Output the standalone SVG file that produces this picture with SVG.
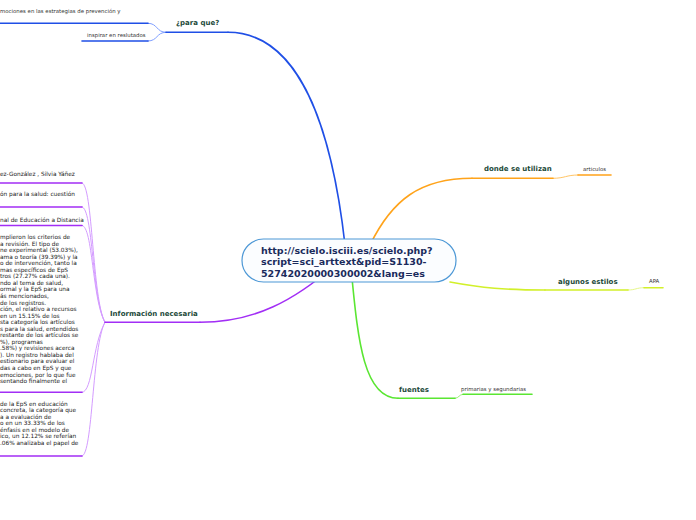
<svg xmlns="http://www.w3.org/2000/svg" width="696" height="520" viewBox="0 0 696 520">
<style>
.lbl{font-family:"DejaVu Sans",Verdana,sans-serif;font-weight:bold;font-size:7px;fill:#1d4a3a}
.sm{font-family:"DejaVu Sans",Verdana,sans-serif;font-size:5.4px;fill:#333}
.blk{font-family:"DejaVu Sans",Verdana,sans-serif;font-size:5.8px;fill:#222}
.ctr{font-family:"DejaVu Sans",Verdana,sans-serif;font-weight:bold;font-size:9.5px;fill:#1a2b5c}
.c{fill:none;stroke-linecap:round}
.bu{stroke:#1f4fe6;stroke-width:1.6}
.bc{stroke:#7f9fff;stroke-width:1}
.pu{stroke:#a22ef5;stroke-width:1.6}
.pc{stroke:#d49cff;stroke-width:1}
.ou{stroke:#ffa31a;stroke-width:1.6}
.oc{stroke:#ffc566;stroke-width:1}
.yu{stroke:#d2f02a;stroke-width:1.6}
.yc{stroke:#e6f78a;stroke-width:1}
.gu{stroke:#5ae632;stroke-width:1.6}
.gc{stroke:#9af07a;stroke-width:1}
</style>
<rect width="696" height="520" fill="#ffffff"/>
<g id="connectors">
  <path class="c bu" d="M228,32.3 C300,32.3 332,130 345,245"/>
  <path class="c bc" d="M148,23.3 C158,23.3 156,32.3 166,32.3"/>
  <path class="c bc" d="M148,41 C158,41 156,32.3 166,32.3"/>
  <path class="c ou" d="M370,245 C392,200 420,178.3 472,178.3"/>
  <path class="c oc" d="M553,178.3 C565,178.3 566,175 578,175"/>
  <path class="c yu" d="M450,282 C482,288 505,290 545,290"/>
  <path class="c yc" d="M628,290 C636,290 636,287.7 644,287.7"/>
  <path class="c gu" d="M352,278 C358,340 364,398.3 398,398.3"/>
  <path class="c gc" d="M455,398.3 C459,398.3 459,394.3 463,394.3"/>
  <path class="c pu" d="M200,322.3 C255,322.3 295,300 335,265"/>
  <path class="c pc" d="M82,183 C93,183 92,300 105,322.3"/>
  <path class="c pc" d="M82,207 C93,207 92,300 105,322.3"/>
  <path class="c pc" d="M82,225.5 C93,225.5 92,300 105,322.3"/>
  <path class="c pc" d="M82,392.3 C93,392.3 92,345 105,322.3"/>
  <path class="c pc" d="M82,456 C93,456 92,345 105,322.3"/>
</g>
<g id="central">
  <rect x="242" y="239" width="214" height="43" rx="21.5" ry="21.5" fill="#fbfdff" stroke="#4d98d6" stroke-width="1.2"/>
  <text class="ctr" x="261" y="253.5">http://scielo.isciii.es/scielo.php?</text>
  <text class="ctr" x="261" y="265">script=sci_arttext&amp;pid=S1130-</text>
  <text class="ctr" x="261" y="276.5">52742020000300002&amp;lang=es</text>
</g>
<g id="para-que">
  <text class="lbl" x="176" y="25">¿para que?</text>
  <line class="c bu" x1="166" y1="32.3" x2="228" y2="32.3"/>
</g>
<g id="mociones">
  <text class="sm" x="0" y="13">mociones en las estrategias de prevención y</text>
  <line class="c bu" x1="0" y1="23.3" x2="148" y2="23.3"/>
</g>
<g id="inspirar">
  <text class="sm" x="87" y="37">inspirar en reslutados</text>
  <line class="c bu" x1="82" y1="41" x2="148" y2="41"/>
</g>
<g id="donde-se-utilizan">
  <text class="lbl" x="484" y="170.8">donde se utilizan</text>
  <line class="c ou" x1="472" y1="178.3" x2="553" y2="178.3"/>
</g>
<g id="articulos">
  <text class="sm" x="583" y="171">articulos</text>
  <line class="c ou" x1="578" y1="175" x2="611" y2="175"/>
</g>
<g id="algunos-estilos">
  <text class="lbl" x="558" y="284.2">algunos estilos</text>
  <line class="c yu" x1="545" y1="290" x2="628" y2="290"/>
</g>
<g id="apa">
  <text class="sm" x="649" y="282.7">APA</text>
  <line class="c yu" x1="644" y1="287.7" x2="663" y2="287.7"/>
</g>
<g id="fuentes">
  <text class="lbl" x="399" y="391.5">fuentes</text>
  <line class="c gu" x1="398" y1="398.3" x2="455" y2="398.3"/>
</g>
<g id="primarias">
  <text class="sm" x="461" y="391">primarias y segundarias</text>
  <line class="c gu" x1="463" y1="394.3" x2="532" y2="394.3"/>
</g>
<g id="informacion-necesaria">
  <text class="lbl" x="110" y="315.8">Información necesaria</text>
  <line class="c pu" x1="105" y1="322.3" x2="200" y2="322.3"/>
</g>
<g id="autores">
  <text class="blk" x="0" y="176">ez-González  , Silvia Yáñez</text>
  <line class="c pu" x1="0" y1="183" x2="82" y2="183"/>
</g>
<g id="titulo">
  <text class="blk" x="0" y="196">ón para la salud: cuestión</text>
  <line class="c pu" x1="0" y1="207" x2="82" y2="207"/>
</g>
<g id="revista">
  <text class="blk" x="0" y="221.5">nal de Educación a Distancia</text>
  <line class="c pu" x1="0" y1="225.5" x2="82" y2="225.5"/>
</g>
<g id="resultados">
  <text class="blk">
    <tspan x="0" y="239">mplieron los criterios de</tspan>
    <tspan x="0" y="245.55">a revisión. El tipo de</tspan>
    <tspan x="0" y="252.1">ne experimental (53.03%),</tspan>
    <tspan x="0" y="258.65">ama o teoría (39.39%) y la</tspan>
    <tspan x="0" y="265.2">o de intervención, tanto la</tspan>
    <tspan x="0" y="271.75">mas específicos de EpS</tspan>
    <tspan x="0" y="278.3">tros (27.27% cada una).</tspan>
    <tspan x="0" y="284.85">ndo al tema de salud,</tspan>
    <tspan x="0" y="291.4">ormal y la EpS para una</tspan>
    <tspan x="0" y="297.95">ás mencionados,</tspan>
    <tspan x="0" y="304.5">de los registros.</tspan>
    <tspan x="0" y="311.05">ción, el relativo a recursos</tspan>
    <tspan x="0" y="317.6">en un 15.15% de los</tspan>
    <tspan x="0" y="324.15">sta categoría los artículos</tspan>
    <tspan x="0" y="330.7">s para la salud, entendidos</tspan>
    <tspan x="0" y="337.25">restante de los artículos se</tspan>
    <tspan x="0" y="343.8">%), programas</tspan>
    <tspan x="0" y="350.35">.58%) y revisiones acerca</tspan>
    <tspan x="0" y="356.9">). Un registro hablaba del</tspan>
    <tspan x="0" y="363.45">estionario para evaluar el</tspan>
    <tspan x="0" y="370">das a cabo en EpS y que</tspan>
    <tspan x="0" y="376.55">emociones, por lo que fue</tspan>
    <tspan x="0" y="383.1">sentando finalmente el</tspan>
  </text>
  <line class="c pu" x1="0" y1="392.3" x2="82" y2="392.3"/>
</g>
<g id="conclusiones">
  <text class="blk">
    <tspan x="0" y="406">de la EpS en educación</tspan>
    <tspan x="0" y="412.45">concreta, la categoría que</tspan>
    <tspan x="0" y="418.9">a a evaluación de</tspan>
    <tspan x="0" y="425.35">o en un 33.33% de los</tspan>
    <tspan x="0" y="431.8"> énfasis en el modelo de</tspan>
    <tspan x="0" y="438.25">ico, un 12.12% se referían</tspan>
    <tspan x="0" y="444.7">.06% analizaba el papel de</tspan>
  </text>
  <line class="c pu" x1="0" y1="456" x2="82" y2="456"/>
</g>
</svg>
